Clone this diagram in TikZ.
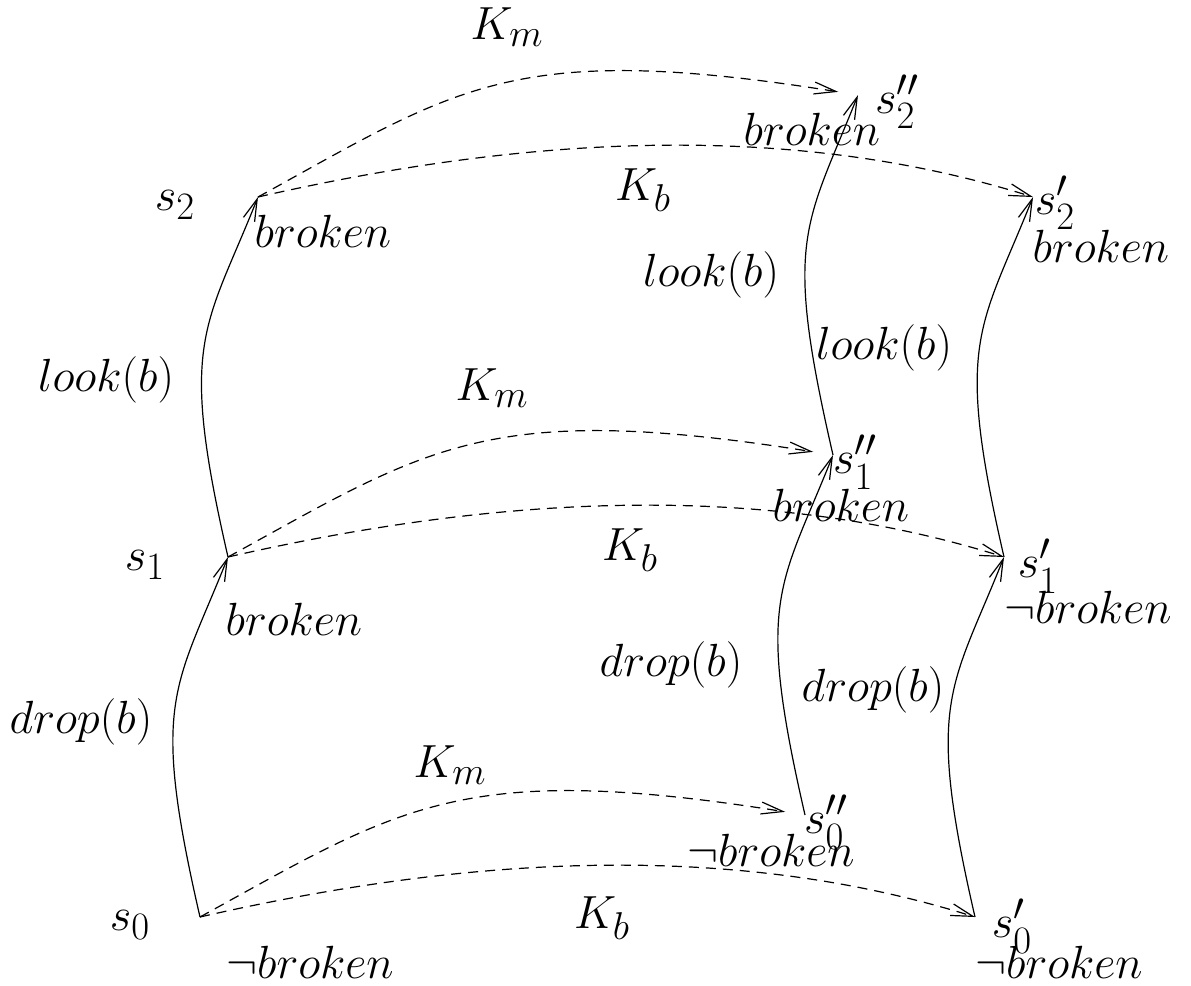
\documentclass[tikz,border=0pt]{standalone}
\usepackage{amsmath,amssymb}
\usetikzlibrary{arrows.meta}

\begin{document}
\begin{tikzpicture}[x=0.5pt,y=-0.5pt,>={Straight Barb[length=11pt,width=6pt]},
  lbl/.style={inner sep=0pt,font=\fontsize{24.88}{30}\selectfont,scale=0.935,transform shape},
  act/.style={->,line width=0.6pt},
  know/.style={->,line width=0.6pt,dash pattern=on 5pt off 3.5pt}]
\useasboundingbox (0,0) rectangle (1191,986);
% states
\coordinate (s0) at (200,917);
\coordinate (s1) at (228,557);
\coordinate (s2) at (258,197);
\coordinate (s0p) at (975,917);
\coordinate (s1p) at (1004,557);
\coordinate (s2p) at (1033,197);
\coordinate (s0pp) at (805,815);
\coordinate (s1pp) at (833,455);
\coordinate (s2pp) at (858,95);
% state names
\node[lbl] (ls0) at (130,925) {$s_0$};
\node[lbl] (ls1) at (145,565) {$s_1$};
\node[lbl] (ls2) at (175,205) {$s_2$};
\node[lbl] (ls0p) at (1012,926) {$s_0'$};
\node[lbl] (ls1p) at (1038,566) {$s_1'$};
\node[lbl] (ls2p) at (1055,203) {$s_2'$};
\node[lbl] (ls0pp) at (826,822) {$s_0''$};
\node[lbl] (ls1pp) at (855,462) {$s_1''$};
\node[lbl] (ls2pp) at (897,102) {$s_2''$};
% fluents
\node[lbl] (f0) at (310,962) {$\neg broken$};
\node[lbl] (f1) at (294,619) {$broken$};
\node[lbl] (f2) at (323,231) {$broken$};
\node[lbl] (f0p) at (1059,962) {$\neg broken$};
\node[lbl] (f1p) at (1088,607) {$\neg broken$};
\node[lbl] (f2p) at (1101,246) {$broken$};
\node[lbl] (f0pp) at (771,850) {$\neg broken$};
\node[lbl] (f1pp) at (841,505) {$broken$};
\node[lbl] (f2pp) at (812,129) {$broken$};
% actions
\foreach \a/\b in {s0/s1,s1/s2,s0p/s1p,s1p/s2p,s0pp/s1pp,s1pp/s2pp}
  \draw[act] (\a) .. controls +(-50,-217) and +(-53,133) .. (\b);
\node[lbl] (da) at (81,722) {$drop(b)$};
\node[lbl] (db) at (671,665) {$drop(b)$};
\node[lbl] (dc) at (873,690) {$drop(b)$};
\node[lbl] (la) at (106,380) {$look(b)$};
\node[lbl] (lb) at (711,275) {$look(b)$};
\node[lbl] (lc) at (884,348) {$look(b)$};
% knowledge
\foreach \a/\b in {s0/s0p,s1/s1p,s2/s2p}
  \draw[know] (\a) .. controls +(250,-57) and +(-255,-80) .. (\b);
\foreach \a/\b in {s0/s0pp,s1/s1pp,s2/s2pp}
  \draw[know,shorten >=10pt] (\a) .. controls +(200,-110) and +(-345,-55) .. (\b);
\node[lbl] (kb0) at (602,918) {$K_b$};
\node[lbl] (kb1) at (630,550) {$K_b$};
\node[lbl] (kb2) at (643,190) {$K_b$};
\node[lbl] (km0) at (450,765) {$K_m$};
\node[lbl] (km1) at (492,388) {$K_m$};
\node[lbl] (km2) at (507,27) {$K_m$};
\end{tikzpicture}
\end{document}
